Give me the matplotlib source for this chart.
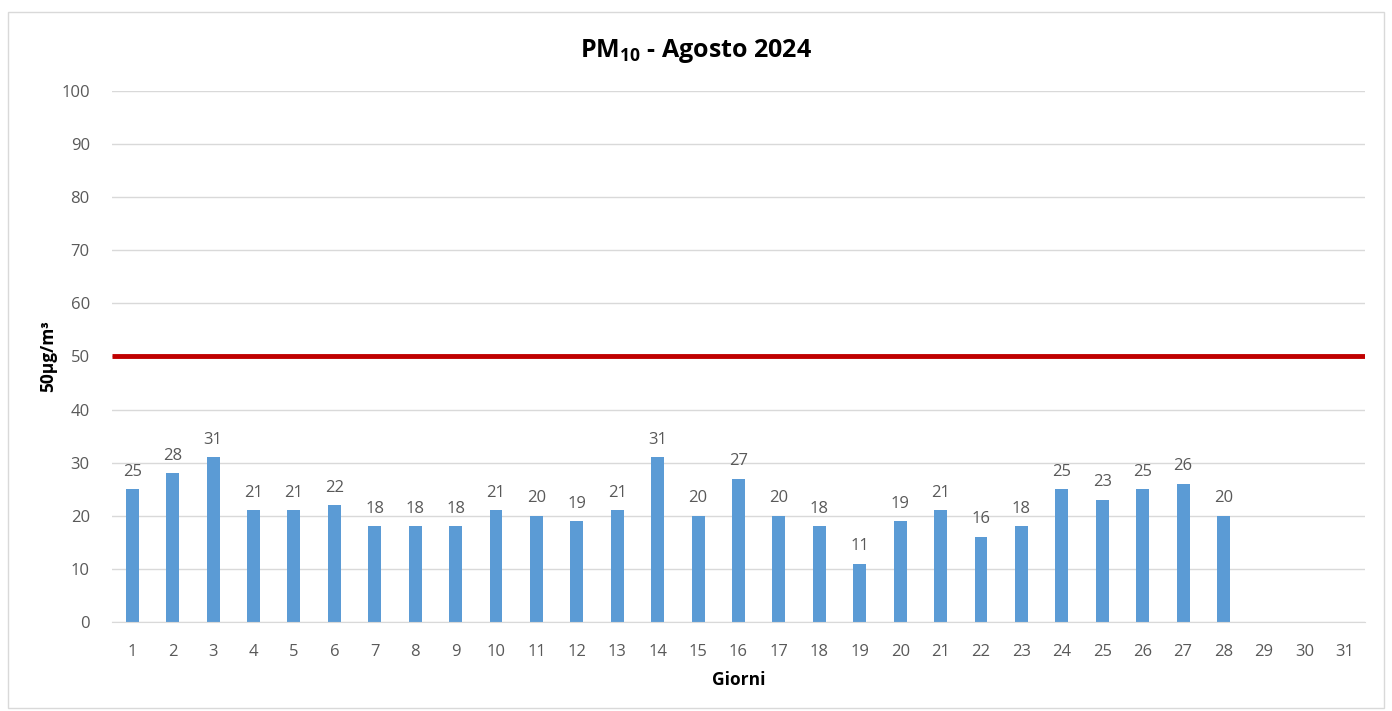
import matplotlib
matplotlib.use('Agg')
from matplotlib import pyplot as plt
from matplotlib.patches import Rectangle

import numpy as np

plt.rcParams['font.family'] = ['Open Sans', 'DejaVu Sans']
plt.rcParams['mathtext.fontset'] = 'custom'
plt.rcParams['mathtext.rm'] = 'Open Sans'
plt.rcParams['mathtext.bf'] = 'Open Sans:bold'

# daily PM10 values, August 2024 (days 29-31 missing)
days = list(range(1, 32))
pm10 = [25, 28, 31, 21, 21, 22, 18, 18, 18, 21, 20, 19, 21, 31, 20,
        27, 20, 18, 11, 19, 21, 16, 18, 25, 23, 25, 26, 20]
limit = 50
y_ticks = list(range(0, 101, 10))

bar_color = '#5b9bd5'
label_color = '#595959'

fig = plt.figure(figsize=(13.92, 7.11), dpi=100)
ax = fig.add_axes([0.0805, 0.1252, 0.9001, 0.7468])

x = np.arange(len(pm10)) + 1
bars = ax.bar(x, pm10, width=0.32, color=bar_color, zorder=3)
for b, v in zip(bars, pm10):
    ax.text(b.get_x() + b.get_width() / 2, v + 1.8, str(v),
            ha='center', va='bottom', fontsize=12, color=label_color)

# limit line
ax.plot([0.5, len(days) + 0.5], [limit, limit], color='#c00000',
        linewidth=3.5, solid_capstyle='butt', zorder=4)

ax.set_xlim(0.5, len(days) + 0.5)
ax.set_ylim(0, 100)
ax.set_xticks(days)
ax.set_xticklabels([str(d) for d in days])
ax.set_yticks(y_ticks)
ax.tick_params(axis='both', length=0, labelsize=12, colors=label_color)
ax.tick_params(axis='x', pad=16)
ax.tick_params(axis='y', pad=16)
ax.grid(axis='y', color='#d9d9d9', linewidth=1, zorder=0)
for side in ['top', 'right', 'left']:
    ax.spines[side].set_visible(False)
ax.spines['bottom'].set_color('#d9d9d9')
ax.spines['bottom'].set_zorder(5)

fig.text(0.5, 0.928, r'PM$_{\mathbf{10}}$ - Agosto 2024', ha='center',
         va='center', fontsize=18, fontweight='bold', color='black')
ax.set_xlabel('Giorni', fontsize=12.5, fontweight='bold', labelpad=8)
ax.set_ylabel('50µg/m³', fontsize=12.5, fontweight='bold', labelpad=3)

# chart border
fig.add_artist(Rectangle((0.006, 0.004), 0.988, 0.979,
                         transform=fig.transFigure, fill=False,
                         edgecolor='#d9d9d9', linewidth=1))

fig.savefig('out.png', dpi=100)
